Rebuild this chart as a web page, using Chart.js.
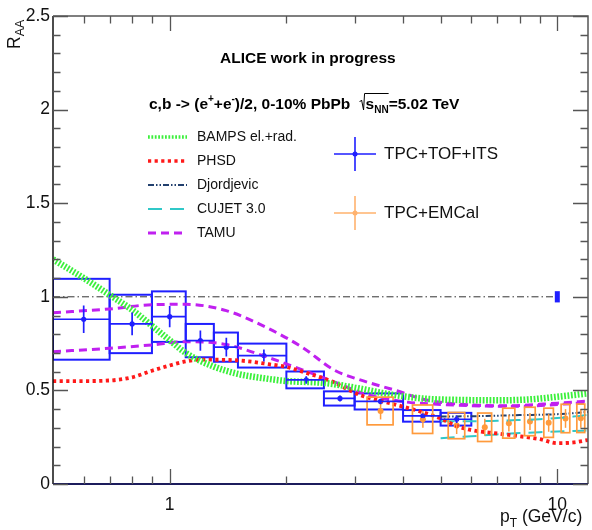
<!DOCTYPE html>
<html>
<head>
<meta charset="utf-8">
<script src="https://cdn.jsdelivr.net/npm/chart.js@4/dist/chart.umd.min.js"></script>
<style>
    body { margin: 0; background: #fff; }
    #contenedor { width: 592px; height: 530px; }
</style>
</head>
<body>
<div id="contenedor"><canvas id="grafico-raa" width="592" height="530"></canvas></div>
<script>
// Datos TPC+TOF+ITS (bins en pT)
const ptTof = [0.6, 0.8, 1.0, 1.2, 1.4, 1.75, 2.25, 2.75, 3.5, 4.5, 5.5];
const ptTofMin = [0.5, 0.7, 0.9, 1.1, 1.3, 1.5, 2.0, 2.5, 3.0, 4.0, 5.0];
const ptTofMax = [0.7, 0.9, 1.1, 1.3, 1.5, 2.0, 2.5, 3.0, 4.0, 5.0, 6.0];
const raaTof = [0.88, 0.855, 0.894, 0.766, 0.731, 0.686, 0.556, 0.457, 0.441, 0.364, 0.346];
const estTof = [0.073, 0.061, 0.057, 0.054, 0.05, 0.032, 0.02, 0.016, 0.015, 0.012, 0.02];
const sisTof = [0.216, 0.156, 0.135, 0.089, 0.078, 0.064, 0.045, 0.038, 0.043, 0.031, 0.034];

// Datos TPC+EMCal
const ptEmc = [3.5, 4.5, 5.5, 6.5, 7.5, 8.5, 9.5, 10.5, 11.5];
const raaEmc = [0.39, 0.346, 0.312, 0.303, 0.325, 0.334, 0.327, 0.35, 0.351];
const estEmc = [0.045, 0.045, 0.045, 0.045, 0.045, 0.045, 0.048, 0.05, 0.05];
const sisEmc = [0.074, 0.076, 0.07, 0.076, 0.08, 0.076, 0.078, 0.076, 0.076];

// Incertidumbre de normalización
const normRaa = 1;
const normUnc = 0.03;

// Modelos
const ptBamps = [0.5, 0.6, 0.7, 0.8, 0.9, 1.0, 1.1, 1.3, 1.5, 1.75, 2.0, 2.5, 3.0, 3.8, 4.6, 5.6, 7.0, 8.5, 10, 12];
const raaBamps = [1.20, 1.10, 1.01, 0.93, 0.845, 0.768, 0.70, 0.627, 0.588, 0.565, 0.55, 0.54, 0.515, 0.475, 0.455, 0.449, 0.447, 0.452, 0.466, 0.484];

const ptPhsd = [0.5, 0.6, 0.7, 0.8, 0.9, 1.0, 1.1, 1.2, 1.4, 1.6, 1.8, 2.0, 2.2, 2.6, 3.1, 3.5, 4.0, 4.5, 5.0, 5.5, 6.0, 7.0, 8.0, 9.0, 10, 11, 12];
const raaPhsd = [0.55, 0.55, 0.553, 0.57, 0.605, 0.633, 0.655, 0.664, 0.663, 0.655, 0.64, 0.625, 0.60, 0.55, 0.475, 0.445, 0.413, 0.383, 0.35, 0.31, 0.288, 0.27, 0.255, 0.24, 0.218, 0.222, 0.235];

const ptDjordjevic = [5, 6, 7, 8, 9, 10, 11, 12];
const raaDjordjevic = [0.36, 0.362, 0.365, 0.368, 0.37, 0.373, 0.378, 0.385];

const ptCujet = [5, 6, 7, 8, 9, 10, 11, 12];
const raaCujetAlto = [0.335, 0.335, 0.338, 0.342, 0.346, 0.352, 0.36, 0.37];
const raaCujetBajo = [0.245, 0.255, 0.265, 0.272, 0.277, 0.28, 0.283, 0.286];

const ptTamuAlto = [0.5, 0.7, 0.9, 1.1, 1.4, 1.8, 2.2, 2.65, 3.1, 3.8, 4.6, 5.6, 7.5, 10, 12];
const raaTamuAlto = [0.915, 0.935, 0.958, 0.96, 0.926, 0.83, 0.73, 0.61, 0.556, 0.502, 0.449, 0.426, 0.418, 0.432, 0.443];
const ptTamuBajo = [0.5, 0.7, 0.9, 1.1, 1.4, 1.8, 2.2, 2.7, 3.2, 4.0, 5.0, 6.0, 8.0, 10, 12];
const raaTamuBajo = [0.707, 0.725, 0.743, 0.76, 0.745, 0.675, 0.61, 0.54, 0.48, 0.44, 0.425, 0.418, 0.415, 0.425, 0.435];

// Ejes
const ejeXMin = 0.5, ejeXMax = 12;
const ejeYMin = 0, ejeYMax = 2.5;
const ticksY = [0, 0.5, 1, 1.5, 2, 2.5];
const etiquetasY = ['0', '0.5', '1', '1.5', '2', '2.5'];
const ticksX = [1, 10];
const etiquetasX = ['1', '10'];
const ticksXMenores = [0.6, 0.7, 0.8, 0.9, 2, 3, 4, 5, 6, 7, 8, 9];

const fuente = '"Liberation Sans", Arial, Helvetica, sans-serif';
const AZUL = '#1f1fff';
const NARANJA = '#ff9a3c';

// Estilos de los modelos (también para la leyenda)
const estilos = {
    bamps: { color: '#3cf03c', ancho: 6.5, dash: [1.8, 1.6] },
    phsd: { color: '#ff1a1a', ancho: 3.8, dash: [3.2, 3.4] },
    djordjevic: { color: '#22406e', ancho: 2, dash: [6, 2, 1.5, 2, 1.5, 2] },
    cujet: { color: '#30c8c8', ancho: 2, dash: [14, 8] },
    tamu: { color: '#c020f0', ancho: 3, dash: [8, 5] }
};

function puntos(xs, ys) {
    return xs.map((v, i) => ({ x: v, y: ys[i] }));
}

function curva(xs, ys, e) {
    return {
        data: puntos(xs, ys),
        showLine: true,
        borderColor: e.color,
        borderWidth: e.ancho,
        borderDash: e.dash,
        pointRadius: 0,
        cubicInterpolationMode: 'monotone',
        fill: false
    };
}

// Texto con subíndices / superíndices
function textoCompuesto(ctx, partes, x, y) {
    let cx = x;
    partes.forEach(p => {
        ctx.font = p.font;
        ctx.fillText(p.t, cx, y + (p.dy || 0));
        cx += ctx.measureText(p.t).width;
    });
    return cx;
}

const decoracion = {
    id: 'decoracion',
    beforeDatasetsDraw(chart) {
        const { ctx, chartArea: a, scales: { x, y } } = chart;
        ctx.save();
        ctx.beginPath();
        ctx.rect(a.left, a.top, a.right - a.left, a.bottom - a.top);
        ctx.clip();

        // línea en R_AA = 1
        ctx.strokeStyle = '#333';
        ctx.lineWidth = 1;
        ctx.setLineDash([7, 3, 1.5, 3]);
        ctx.beginPath();
        ctx.moveTo(a.left, y.getPixelForValue(1));
        ctx.lineTo(x.getPixelForValue(9.8), y.getPixelForValue(1));
        ctx.stroke();
        ctx.setLineDash([]);

        // cajas sistemáticas TPC+TOF+ITS
        ctx.strokeStyle = AZUL;
        ctx.lineWidth = 2;
        ptTof.forEach((p, i) => {
            const x0 = x.getPixelForValue(ptTofMin[i]);
            const x1 = x.getPixelForValue(ptTofMax[i]);
            const y0 = y.getPixelForValue(raaTof[i] + sisTof[i]);
            const y1 = y.getPixelForValue(raaTof[i] - sisTof[i]);
            ctx.strokeRect(x0, y0, x1 - x0, y1 - y0);
        });
        ctx.restore();
    },
    afterDatasetsDraw(chart) {
        const { ctx, chartArea: a, scales: { x, y } } = chart;
        ctx.save();
        ctx.beginPath();
        ctx.rect(a.left, a.top, a.right - a.left, a.bottom - a.top);
        ctx.clip();

        // cajas sistemáticas TPC+EMCal
        ctx.strokeStyle = NARANJA;
        ctx.lineWidth = 1.7;
        ptEmc.forEach((p, i) => {
            const x0 = x.getPixelForValue(p - 0.27);
            const x1 = x.getPixelForValue(p + 0.27);
            const y0 = y.getPixelForValue(raaEmc[i] + sisEmc[i]);
            const y1 = y.getPixelForValue(raaEmc[i] - sisEmc[i]);
            ctx.strokeRect(x0, y0, x1 - x0, y1 - y0);
        });
        // barras estadísticas EMCal
        ctx.lineWidth = 1.5;
        ptEmc.forEach((p, i) => {
            const px = x.getPixelForValue(p);
            ctx.beginPath();
            ctx.moveTo(px, y.getPixelForValue(raaEmc[i] + estEmc[i]));
            ctx.lineTo(px, y.getPixelForValue(raaEmc[i] - estEmc[i]));
            ctx.stroke();
        });

        // barras estadísticas TOF (ancho del bin en x)
        ctx.strokeStyle = AZUL;
        ctx.lineWidth = 1.7;
        ptTof.forEach((p, i) => {
            const px = x.getPixelForValue(p);
            const py = y.getPixelForValue(raaTof[i]);
            ctx.beginPath();
            ctx.moveTo(x.getPixelForValue(ptTofMin[i]), py);
            ctx.lineTo(x.getPixelForValue(ptTofMax[i]), py);
            ctx.moveTo(px, y.getPixelForValue(raaTof[i] + estTof[i]));
            ctx.lineTo(px, y.getPixelForValue(raaTof[i] - estTof[i]));
            ctx.stroke();
        });

        // caja de normalización en pT = 10
        ctx.fillStyle = AZUL;
        const nx = x.getPixelForValue(10);
        const ny0 = y.getPixelForValue(normRaa + normUnc);
        const ny1 = y.getPixelForValue(normRaa - normUnc);
        ctx.fillRect(nx - 2.5, ny0, 5, ny1 - ny0);
        ctx.restore();
    },
    afterDraw(chart) {
        const { ctx, chartArea: a, scales: { x, y } } = chart;
        ctx.save();

        // marco
        ctx.lineWidth = 1.5;
        ctx.strokeStyle = '#555';
        ctx.beginPath();
        ctx.moveTo(a.left, a.top); ctx.lineTo(a.right, a.top); ctx.lineTo(a.right, a.bottom);
        ctx.stroke();
        ctx.strokeStyle = '#111';
        ctx.beginPath();
        ctx.moveTo(a.left, a.top); ctx.lineTo(a.left, a.bottom);
        ctx.stroke();
        ctx.strokeStyle = '#1c1c5c';
        ctx.lineWidth = 2;
        ctx.beginPath();
        ctx.moveTo(a.left, a.bottom); ctx.lineTo(a.right, a.bottom);
        ctx.stroke();

        // ticks del eje y (mayores cada 0.5, menores cada 0.1)
        ctx.strokeStyle = '#555';
        ctx.lineWidth = 1.3;
        for (let k = 0; k <= 25; k++) {
            const v = ejeYMin + k * 0.1;
            const py = Math.round(y.getPixelForValue(v)) + 0.5;
            const largo = k % 5 === 0 ? 15 : 7.5;
            ctx.beginPath();
            ctx.moveTo(a.left, py); ctx.lineTo(a.left + largo, py);
            ctx.moveTo(a.right, py); ctx.lineTo(a.right - largo, py);
            ctx.stroke();
        }
        // ticks del eje x
        ticksX.concat(ticksXMenores).forEach(v => {
            const px = Math.round(x.getPixelForValue(v)) + 0.5;
            const largo = ticksX.includes(v) ? 15 : 7.5;
            ctx.beginPath();
            ctx.moveTo(px, a.bottom); ctx.lineTo(px, a.bottom - largo);
            ctx.moveTo(px, a.top); ctx.lineTo(px, a.top + largo);
            ctx.stroke();
        });

        // etiquetas de los ejes
        ctx.fillStyle = '#111';
        ctx.font = '17.5px ' + fuente;
        ctx.textAlign = 'right';
        ctx.textBaseline = 'middle';
        ticksY.forEach((v, i) => ctx.fillText(etiquetasY[i], a.left - 3, y.getPixelForValue(v)));
        ctx.textAlign = 'center';
        ticksX.forEach((v, i) => ctx.fillText(etiquetasX[i], x.getPixelForValue(v), a.bottom + 21));

        // título eje x: p_T (GeV/c)
        ctx.textAlign = 'left';
        ctx.textBaseline = 'alphabetic';
        textoCompuesto(ctx, [
            { t: 'p', font: '17.5px ' + fuente },
            { t: 'T', font: '12px ' + fuente, dy: 5 },
            { t: ' (GeV/c)', font: '17.5px ' + fuente }
        ], 500, 522);

        // título eje y: R_AA (rotado)
        ctx.save();
        ctx.translate(20, 49);
        ctx.rotate(-Math.PI / 2);
        textoCompuesto(ctx, [
            { t: 'R', font: '17.5px ' + fuente },
            { t: 'AA', font: '12.5px ' + fuente, dy: 4 }
        ], 0, 0);
        ctx.restore();

        // rótulos superiores
        ctx.fillStyle = '#000';
        ctx.textBaseline = 'alphabetic';
        ctx.font = 'bold 15.5px ' + fuente;
        ctx.fillText('ALICE work in progress', 220, 63);

        const b = 'bold 15.5px ' + fuente;
        const bs = 'bold 10px ' + fuente;
        let cx = textoCompuesto(ctx, [
            { t: 'c,b -> (e', font: b },
            { t: '+', font: bs, dy: -7 },
            { t: '+e', font: b },
            { t: '-', font: bs, dy: -7 },
            { t: ')/2, 0-10% PbPb ', font: b }
        ], 149, 109);
        // raíz de s_NN
        const rx = cx + 5;
        ctx.strokeStyle = '#000';
        ctx.lineWidth = 1;
        ctx.beginPath();
        ctx.moveTo(rx, 102);
        ctx.lineTo(rx + 2, 100);
        ctx.lineTo(rx + 4, 110);
        ctx.lineTo(rx + 5, 93.5);
        ctx.stroke();
        const fin = textoCompuesto(ctx, [
            { t: 's', font: b },
            { t: 'NN', font: bs, dy: 4 }
        ], rx + 6, 109);
        ctx.beginPath();
        ctx.moveTo(rx + 5, 93.5);
        ctx.lineTo(fin, 93.5);
        ctx.stroke();
        textoCompuesto(ctx, [{ t: '=5.02 TeV', font: b }], fin, 109);

        // leyenda de modelos
        const filas = [
            ['BAMPS el.+rad.', estilos.bamps],
            ['PHSD', estilos.phsd],
            ['Djordjevic', estilos.djordjevic],
            ['CUJET 3.0', estilos.cujet],
            ['TAMU', estilos.tamu]
        ];
        ctx.font = '14px ' + fuente;
        ctx.textBaseline = 'middle';
        filas.forEach((f, i) => {
            const fy = 137 + i * 24;
            const e = f[1];
            ctx.strokeStyle = e.color;
            ctx.lineWidth = Math.min(e.ancho, 3.5);
            ctx.setLineDash(e.dash);
            ctx.beginPath();
            ctx.moveTo(148, fy);
            ctx.lineTo(187, fy);
            ctx.stroke();
            ctx.setLineDash([]);
            ctx.fillStyle = '#111';
            ctx.fillText(f[0], 197, fy);
        });

        // leyenda de datos
        const datos = [
            ['TPC+TOF+ITS', AZUL, 154],
            ['TPC+EMCal', '#ffb26e', 213]
        ];
        ctx.font = '17px ' + fuente;
        datos.forEach(d => {
            ctx.strokeStyle = d[1];
            ctx.fillStyle = d[1];
            ctx.lineWidth = 1.6;
            ctx.beginPath();
            ctx.moveTo(334, d[2]); ctx.lineTo(376, d[2]);
            ctx.moveTo(355, d[2] - 17); ctx.lineTo(355, d[2] + 17);
            ctx.stroke();
            ctx.beginPath();
            ctx.arc(355, d[2], 2.5, 0, Math.PI * 2);
            ctx.fill();
            ctx.fillStyle = '#111';
            ctx.fillText(d[0], 384, d[2]);
        });

        ctx.restore();
    }
};

const ctx = document.getElementById('grafico-raa');
const grafico = new Chart(ctx, {
    type: 'scatter',
    data: {
        datasets: [
            curva(ptBamps, raaBamps, estilos.bamps),
            curva(ptPhsd, raaPhsd, estilos.phsd),
            curva(ptDjordjevic, raaDjordjevic, estilos.djordjevic),
            curva(ptCujet, raaCujetAlto, estilos.cujet),
            curva(ptCujet, raaCujetBajo, estilos.cujet),
            curva(ptTamuAlto, raaTamuAlto, estilos.tamu),
            curva(ptTamuBajo, raaTamuBajo, estilos.tamu),
            {
                label: 'TPC+TOF+ITS',
                data: puntos(ptTof, raaTof),
                pointRadius: 2.6,
                pointBackgroundColor: AZUL,
                pointBorderWidth: 0,
                showLine: false
            },
            {
                label: 'TPC+EMCal',
                data: puntos(ptEmc, raaEmc),
                pointRadius: 3,
                pointBackgroundColor: NARANJA,
                pointBorderWidth: 0,
                showLine: false
            }
        ]
    },
    options: {
        responsive: false,
        animation: false,
        layout: { padding: { left: 53, right: 2, top: 16, bottom: 46 } },
        plugins: {
            legend: { display: false },
            tooltip: { enabled: false }
        },
        scales: {
            x: { type: 'logarithmic', min: ejeXMin, max: ejeXMax, display: false },
            y: { type: 'linear', min: ejeYMin, max: ejeYMax, display: false }
        }
    },
    plugins: [decoracion]
});
</script>
</body>
</html>
